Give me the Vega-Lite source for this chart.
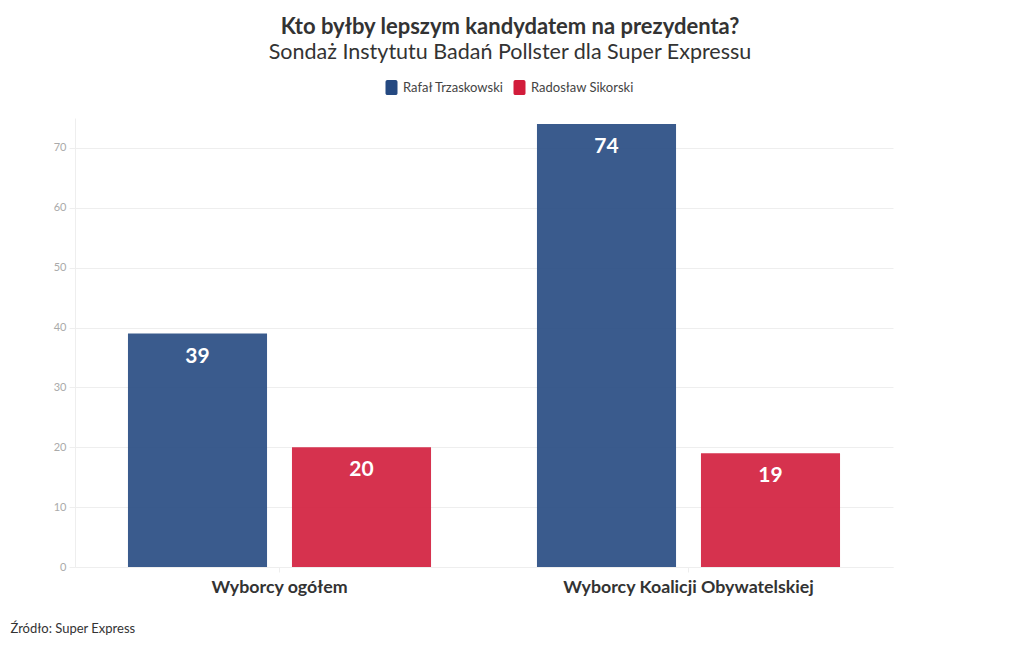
{
  "$schema": "https://vega.github.io/schema/vega-lite/v6.json",
  "autosize": {"type": "none"},
  "width": 818,
  "height": 449,
  "padding": {"left": 75, "top": 118, "right": 127, "bottom": 83},
  "background": "white",
  "config": {
    "font": "Lato",
    "view": {"stroke": null}
  },
  "title": {
    "text": "Kto byłby lepszym kandydatem na prezydenta?",
    "subtitle": "Sondaż Instytutu Badań Pollster dla Super Expressu",
    "anchor": "middle",
    "frame": "group",
    "dx": 26,
    "offset": 16,
    "font": "Lato",
    "fontSize": 22,
    "fontWeight": "bold",
    "color": "#333333",
    "subtitleFont": "Lato",
    "subtitleFontSize": 21.5,
    "subtitleColor": "#333333",
    "subtitlePadding": 3
  },
  "data": {
    "values": [
      {"grupa": "Wyborcy ogółem", "kandydat": "Rafał Trzaskowski", "wartosc": 39},
      {"grupa": "Wyborcy ogółem", "kandydat": "Radosław Sikorski", "wartosc": 20},
      {"grupa": "Wyborcy Koalicji Obywatelskiej", "kandydat": "Rafał Trzaskowski", "wartosc": 74},
      {"grupa": "Wyborcy Koalicji Obywatelskiej", "kandydat": "Radosław Sikorski", "wartosc": 19}
    ]
  },
  "encoding": {
    "x": {
      "field": "grupa",
      "type": "nominal",
      "sort": ["Wyborcy ogółem", "Wyborcy Koalicji Obywatelskiej"],
      "scale": {"paddingInner": 0, "paddingOuter": 0},
      "axis": {
        "title": "Źródło: Super Express",
        "titleAnchor": "start",
        "titleAlign": "left",
        "titleBaseline": "alphabetic",
        "titleX": -65,
        "titleY": 65,
        "titleFont": "Lato",
        "titleFontSize": 13,
        "titleFontWeight": "normal",
        "titleColor": "#333333",
        "labelAngle": 0,
        "labelLimit": 0,
        "labelFont": "Lato",
        "labelFontSize": 17.8,
        "labelFontWeight": "bold",
        "labelColor": "#333333",
        "labelPadding": 6,
        "domainColor": "#eeeeee",
        "tickColor": "#eeeeee",
        "tickSize": 5
      }
    },
    "xOffset": {
      "field": "kandydat",
      "type": "nominal",
      "sort": ["Rafał Trzaskowski", "Radosław Sikorski"],
      "scale": {"paddingInner": 0.152, "paddingOuter": 0.323}
    },
    "y": {
      "field": "wartosc",
      "type": "quantitative",
      "scale": {"domain": [0, 75], "nice": false},
      "axis": {
        "title": null,
        "values": [0, 10, 20, 30, 40, 50, 60, 70],
        "labelFont": "Lato",
        "labelFontSize": 11,
        "labelColor": "#aaaaaa",
        "labelPadding": 3,
        "tickColor": "#eeeeee",
        "tickSize": 6,
        "domainColor": "#eeeeee",
        "gridColor": "#eeeeee",
        "grid": true
      }
    }
  },
  "layer": [
    {
      "mark": {"type": "bar", "opacity": 0.9},
      "encoding": {
        "color": {
          "field": "kandydat",
          "type": "nominal",
          "scale": {
            "domain": ["Rafał Trzaskowski", "Radosław Sikorski"],
            "range": ["#254981", "#d21c3b"]
          },
          "legend": {
            "title": null,
            "orient": "none",
            "direction": "horizontal",
            "legendX": 309,
            "legendY": -38,
            "symbolType": "M-0.8,-0.75 a0.25,0.25 0 0 1 0.25,-0.25 h1.1 a0.25,0.25 0 0 1 0.25,0.25 v1.5 a0.25,0.25 0 0 1 -0.25,0.25 h-1.1 a0.25,0.25 0 0 1 -0.25,-0.25 z",
            "symbolSize": 225,
            "symbolOpacity": 1,
            "symbolStrokeWidth": 0,
            "labelFont": "Lato",
            "labelFontSize": 13,
            "labelColor": "#444444",
            "labelOffset": 4,
            "columnPadding": 8
          }
        }
      }
    },
    {
      "mark": {
        "type": "text",
        "baseline": "top",
        "dy": 12,
        "color": "white",
        "font": "Lato",
        "fontSize": 21,
        "fontWeight": "bold"
      },
      "encoding": {
        "text": {"field": "wartosc", "type": "quantitative"}
      }
    }
  ]
}
